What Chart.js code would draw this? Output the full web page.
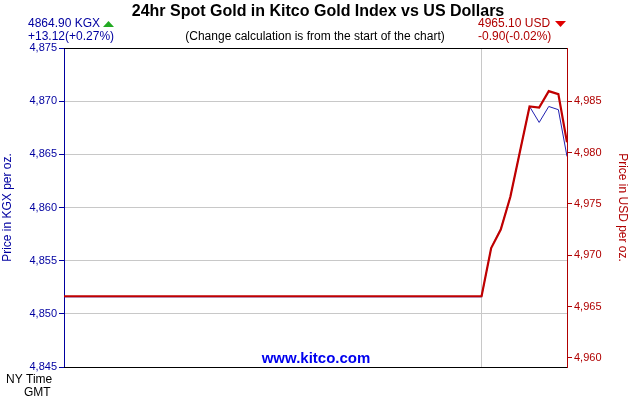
<!DOCTYPE html>
<html>
<head>
<script src="https://cdn.jsdelivr.net/npm/chart.js@4"></script>
<style>body{margin:0;background:#fff}#wrap{width:630px;height:400px}</style>
</head>
<body>
<div id="wrap"><canvas id="gold"></canvas></div>
<script>
// x in chart steps
const xs = [0, 43.5, 44.5, 45.5, 46.5, 47.5, 48.5, 49.5, 50.5, 51.5, 52.4];
const kgx = [4851.6, 4851.6, 4856.2, 4858.0, 4861.0, 4865.3, 4869.5, 4868.0, 4869.5, 4869.2, 4864.8];
const usd = [4966.0, 4966.0, 4970.7, 4972.5, 4975.7, 4980.1, 4984.5, 4984.4, 4986.0, 4985.7, 4981.0];
const leftTicks = [4845, 4850, 4855, 4860, 4865, 4870, 4875];
const rightTicks = [4960, 4965, 4970, 4975, 4980, 4985];

const textPlugin = {
  id: "texts",
  afterDraw(chart) {
    const c = chart.ctx;
    const a = chart.chartArea;
    c.save();
    c.strokeStyle = "#000";
    c.lineWidth = 1;
    c.beginPath();
    c.moveTo(a.left, a.top + 0.5); c.lineTo(a.right, a.top + 0.5);
    c.moveTo(a.left, a.bottom + 0.5); c.lineTo(a.right, a.bottom + 0.5);
    c.stroke();
    c.fillStyle = "#000";
    c.font = "bold 16px 'Liberation Sans', Arial";
    c.textAlign = "center";
    c.textBaseline = "middle";
    c.fillText("24hr Spot Gold in Kitco Gold Index vs US Dollars", 318, 12);
    c.font = "12px 'Liberation Sans', Arial";
    c.fillText("(Change calculation is from the start of the chart)", 315, 37);
    c.textAlign = "left";
    c.fillStyle = "#0000a0";
    c.fillText("4864.90 KGX", 28, 24);
    c.fillText("+13.12(+0.27%)", 28, 37);
    c.fillStyle = "#22aa22";
    c.beginPath(); c.moveTo(103, 27); c.lineTo(114, 27); c.lineTo(108.5, 21); c.fill();
    c.fillStyle = "#b00000";
    c.fillText("4965.10 USD", 478, 24);
    c.fillText("-0.90(-0.02%)", 478, 37);
    c.fillStyle = "#e00000";
    c.beginPath(); c.moveTo(555, 21); c.lineTo(566, 21); c.lineTo(560.5, 27); c.fill();
    c.fillStyle = "#000";
    c.fillText("NY Time", 6, 380);
    c.fillText("GMT", 24, 393);
    c.fillStyle = "#0000ee";
    c.font = "bold 15px 'Liberation Sans', Arial";
    c.textAlign = "center";
    c.fillText("www.kitco.com", 316, 359);
    c.restore();
  }
};

new Chart(document.getElementById("gold").getContext("2d"), {
  type: "line",
  data: {
    datasets: [
      {
        label: "USD",
        data: xs.map((x, i) => ({ x: x, y: usd[i] })),
        yAxisID: "yr",
        borderColor: "#c00000",
        borderWidth: 2.2,
        pointRadius: 0,
        tension: 0,
      },
      {
        label: "KGX",
        data: xs.map((x, i) => ({ x: x, y: kgx[i] })),
        yAxisID: "yl",
        borderColor: "#2020b0",
        borderWidth: 1,
        pointRadius: 0,
        tension: 0,
      },
    ],
  },
  options: {
    responsive: true,
    maintainAspectRatio: false,
    animation: false,
    layout: { padding: { top: 48, left: 0, right: 0, bottom: 0 } },
    plugins: { legend: { display: false }, tooltip: { enabled: false } },
    scales: {
      x: {
        type: "linear",
        min: 0,
        max: 52.4,
        afterBuildTicks(s) { s.ticks = [{ value: 43.5 }]; },
        afterFit(s) { s.height = 33; },
        ticks: { display: false },
        grid: { color: "#c8c8c8", drawTicks: false },
        border: { display: false },
      },
      yl: {
        position: "left",
        min: 4845,
        max: 4875,
        afterBuildTicks(s) { s.ticks = leftTicks.map((v) => ({ value: v })); },
        afterFit(s) { s.width = 64; },
        ticks: { color: "#0000a0", font: { size: 11, family: "'Liberation Sans', Arial" }, padding: 2 },
        grid: { color: "#c8c8c8", tickLength: 5, tickColor: "#0000a0" },
        border: { color: "#0000a0" },
        title: { display: true, text: "Price in KGX per oz.", color: "#0000a0", font: { size: 12, family: "'Liberation Sans', Arial" }, padding: 0 },
      },
      yr: {
        position: "right",
        min: 4959.1,
        max: 4990.2,
        afterBuildTicks(s) { s.ticks = rightTicks.map((v) => ({ value: v })); },
        afterFit(s) { s.width = 63; },
        ticks: { color: "#b00000", font: { size: 11, family: "'Liberation Sans', Arial" }, padding: 2 },
        grid: { drawOnChartArea: false, tickLength: 5, tickColor: "#b00000" },
        border: { color: "#b00000" },
        title: { display: true, text: "Price in USD per oz.", color: "#b00000", font: { size: 12, family: "'Liberation Sans', Arial" }, padding: 0 },
      },
    },
  },
  plugins: [textPlugin],
});
</script>
</body>
</html>
